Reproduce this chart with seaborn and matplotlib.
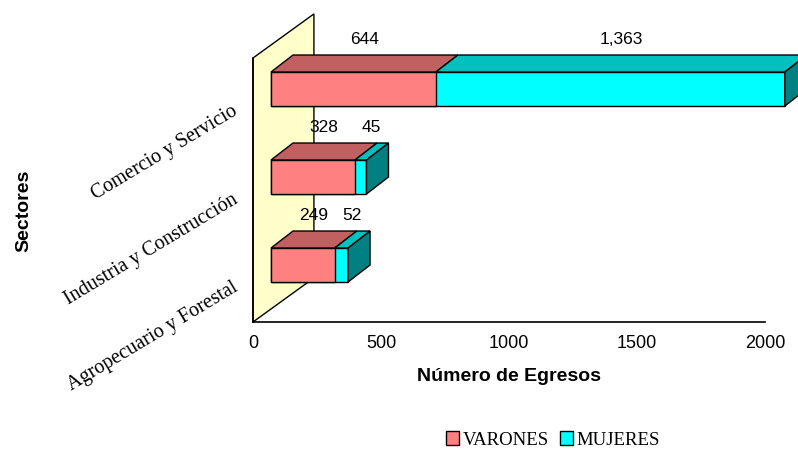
import matplotlib
matplotlib.use("Agg")
import matplotlib.pyplot as plt
from matplotlib.patches import Polygon, Patch
from matplotlib.transforms import ScaledTranslation
import pandas as pd
import seaborn as sns

# Data
sectores = ["Comercio y Servicio", "Industria y Construcción", "Agropecuario y Forestal"]
varones = [644, 328, 249]
mujeres = [1363, 45, 52]

PINK, PINK_TOP = "#FF8080", "#C06060"
CYAN, CYAN_TOP, CYAN_SIDE = "#00FFFF", "#00C0C0", "#008080"
WALL = "#FFFFCC"

sns.set_style("white")
plt.rcParams["font.family"] = ["Liberation Sans", "DejaVu Sans"]
plt.rcParams["text.color"] = "black"
plt.rcParams["axes.labelcolor"] = "black"
plt.rcParams["xtick.color"] = "black"
plt.rcParams["ytick.color"] = "black"

df = pd.DataFrame({"sector": sectores, "varones": varones, "mujeres": mujeres})
df["total"] = df["varones"] + df["mujeres"]

W, H = 798, 450
fig = plt.figure(figsize=(W / 100, H / 100), dpi=100)
ax = fig.add_axes([253 / W, 128 / H, 512 / W, 264 / H])

# stacked bars: total in cyan, varones in pink on top
sns.barplot(data=df, y="sector", x="total", color=CYAN, orient="h", width=0.386,
            saturation=1, edgecolor="black", linewidth=1, errorbar=None, ax=ax)
sns.barplot(data=df, y="sector", x="varones", color=PINK, orient="h", width=0.386,
            saturation=1, edgecolor="black", linewidth=1, errorbar=None, ax=ax)
ax.set_xlim(0, 2000)
ax.set_ylim(2.5, -0.5)

# fake 3D: shift bars back into the box and add top / side faces
shift = ax.transData + ScaledTranslation(0.18, 0.13, fig.dpi_scale_trans)
ddx = 22 * 2000 / 512          # bar depth in x data units
ddy = 17 / 88                  # bar depth in y data units

n = len(sectores)
for p in ax.patches:
    p.set_transform(shift)
    p.set_clip_on(False)
    p.set_zorder(2)

for i in range(n):
    p = ax.patches[n + i]
    yt = p.get_y()
    yb = yt + p.get_height()
    v = df["varones"][i]
    t = df["total"][i]
    faces = [
        ([(0, yt), (v, yt), (v + ddx, yt - ddy), (ddx, yt - ddy)], PINK_TOP),
        ([(v, yt), (t, yt), (t + ddx, yt - ddy), (v + ddx, yt - ddy)], CYAN_TOP),
        ([(t, yt), (t, yb), (t + ddx, yb - ddy), (t + ddx, yt - ddy)], CYAN_SIDE),
    ]
    for verts, col in faces:
        ax.add_patch(Polygon(verts, closed=True, facecolor=col, edgecolor="black",
                             linewidth=1, transform=shift, clip_on=False, zorder=2))
    # value labels above the top face
    lab = shift + ScaledTranslation(0, 0.08, fig.dpi_scale_trans)
    for start, val in [(0, v), (v, df["mujeres"][i])]:
        ax.text(start + val / 2 + ddx / 2, yt - ddy, f"{val:,}", transform=lab,
                ha="center", va="bottom", fontsize=12.5, clip_on=False)

# side wall
ax.add_patch(Polygon([(0, 0), (0, 1), (0.119, 1.167), (0.119, 0.167)], closed=True,
                     facecolor=WALL, edgecolor="black", linewidth=1,
                     transform=ax.transAxes, clip_on=False, zorder=0.5))

# axes styling
for s in ["top", "right"]:
    ax.spines[s].set_visible(False)
for s in ["left", "bottom"]:
    ax.spines[s].set_color("black")
    ax.spines[s].set_linewidth(1.2)
ax.set_xticks([0, 500, 1000, 1500, 2000])
ax.tick_params(axis="x", direction="inout", length=6, width=1, labelsize=13, pad=6)
ax.set_yticks([-0.5, 0.5, 1.5, 2.5], minor=True)
ax.tick_params(axis="y", which="minor", direction="out", length=5, width=1)
ax.tick_params(axis="y", which="major", length=0, pad=12)
ax.set_yticks(range(n))
ax.set_yticklabels(sectores, rotation=31, ha="right", va="center",
                   rotation_mode="anchor", fontsize=14.5,
                   family=["Liberation Serif", "DejaVu Serif"])
for lbl in ax.get_yticklabels():
    lbl.set_transform(lbl.get_transform() + ScaledTranslation(0, -0.08, fig.dpi_scale_trans))

ax.set_xlabel("Número de Egresos", fontsize=14, fontweight="bold", labelpad=12)
ax.set_ylabel("Sectores", fontsize=14, fontweight="bold")
ax.yaxis.set_label_coords(-0.43, 0.42)

handles = [Patch(facecolor=PINK, edgecolor="black", label="VARONES"),
           Patch(facecolor=CYAN, edgecolor="black", label="MUJERES")]
fig.legend(handles=handles, loc="center", bbox_to_anchor=(553 / W, 10 / H), ncol=2,
           frameon=False, prop={"family": "Liberation Serif", "size": 13.5},
           handlelength=0.7, handleheight=0.7, handletextpad=0.2, columnspacing=0.6)

fig.savefig("out.png", dpi=100)
